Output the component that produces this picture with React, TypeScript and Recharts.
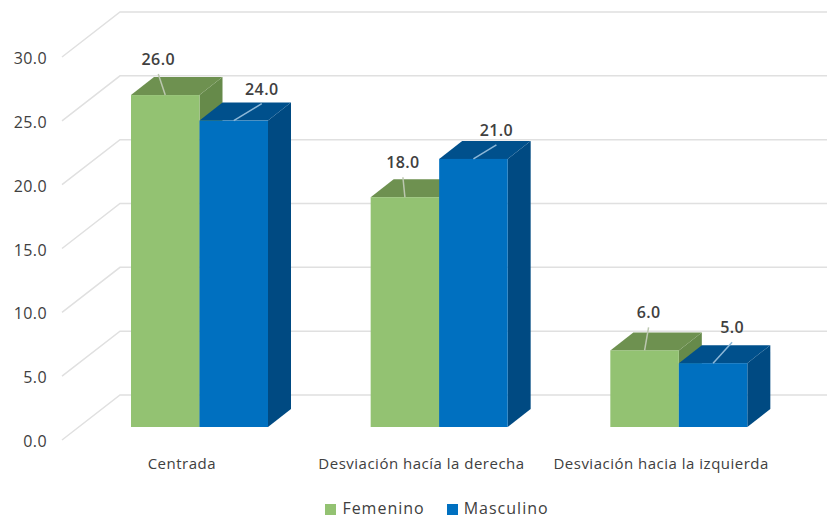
import React from 'react'
import { BarChart, Bar, XAxis, YAxis, CartesianGrid, Legend, LabelList } from 'recharts'

const categories = ['Centrada', 'Desviación hacía la derecha', 'Desviación hacia la izquierda']
const femenino = [26, 18, 6]
const masculino = [24, 21, 5]
const yTicks = [0, 5, 10, 15, 20, 25, 30]

const chartData = categories.map((name, i) => ({
  name,
  Femenino: femenino[i],
  Masculino: masculino[i],
}))

const FONT = '"Open Sans", "Noto Sans", sans-serif'
const DEPTH_X = 23
const DEPTH_Y = 18

// where each data label sits relative to the middle of the bar's front top edge
const femeninoOffsets = [[-7, -21], [-2, -20], [4, -23]]
const masculinoOffsets = [[28, -17], [23, -14], [19, -21]]

const Bar3D = (props: any) => {
  const { x, y, width, height, fill, topFill, sideFill } = props
  const right = x + width
  const bottom = y + height
  return (
    <g>
      <polygon
        points={`${right},${y} ${right + DEPTH_X},${y - DEPTH_Y} ${right + DEPTH_X},${bottom - DEPTH_Y} ${right},${bottom}`}
        fill={sideFill}
      />
      <polygon
        points={`${x},${y} ${x + DEPTH_X},${y - DEPTH_Y} ${right + DEPTH_X},${y - DEPTH_Y} ${right},${y}`}
        fill={topFill}
      />
      <rect x={x} y={y} width={width} height={height} fill={fill} />
    </g>
  )
}

const leaderLabel = (offsets: number[][], stroke: string) => (props: any) => {
  const { x, y, width, value, index } = props
  const cx = x + width / 2
  const [dx, dy] = offsets[index]
  return (
    <g>
      <line x1={cx} y1={y} x2={cx + dx} y2={y + dy} stroke={stroke} strokeWidth={1.5} />
      <text
        x={cx + dx}
        y={y + dy - 15}
        textAnchor="middle"
        dominantBaseline="central"
        fontFamily={FONT}
        fontSize={16}
        fontWeight={600}
        letterSpacing={0.4}
        fill="#404040"
      >
        {Number(value).toFixed(1)}
      </text>
    </g>
  )
}

const GridLine3D = (props: any) => {
  const { y1, x2 } = props
  return (
    <polyline
      points={`62,${y1 + 13} 120,${y1 - 32} ${x2 + 28},${y1 - 32}`}
      fill="none"
      stroke="#e0e0e0"
      strokeWidth={1.5}
    />
  )
}

const YTick = (props: any) => {
  const { y, payload } = props
  return (
    <text
      x={47}
      y={y + 14}
      textAnchor="end"
      dominantBaseline="central"
      fontFamily={FONT}
      fontSize={16}
      letterSpacing={0.4}
      fill="#404040"
    >
      {Number(payload.value).toFixed(1)}
    </text>
  )
}

const XTick = (props: any) => {
  const { x, payload } = props
  return (
    <text
      x={x - 18}
      y={463}
      textAnchor="middle"
      dominantBaseline="central"
      fontFamily={FONT}
      fontSize={15}
      letterSpacing={0.5}
      fill="#404040"
    >
      {payload.value}
    </text>
  )
}

export default function App() {
  return (
    <div style={{ position: 'absolute', left: 0, top: 0, width: 827, height: 518, background: '#fff' }}>
      <BarChart
        width={827}
        height={518}
        data={chartData}
        margin={{ top: 44, right: 28, bottom: 0, left: 0 }}
        barGap={0}
        barSize={68.5}
      >
        <CartesianGrid vertical={false} horizontal={GridLine3D as any} />
        <XAxis dataKey="name" height={71} axisLine={false} tickLine={false} interval={0} tick={XTick as any} />
        <YAxis
          width={80}
          domain={[0, 30]}
          ticks={yTicks}
          axisLine={false}
          tickLine={false}
          tick={YTick as any}
        />
        <Legend
          height={41}
          iconType="square"
          iconSize={11}
          wrapperStyle={{ fontFamily: FONT, fontSize: 16, letterSpacing: 1, top: 498, left: 78, height: 20, lineHeight: '20px', width: 740 }}
          formatter={(value: string) => (
            <span style={{ color: '#404040', marginLeft: 2, marginRight: 12 }}>{value}</span>
          )}
        />
        <Bar
          dataKey="Femenino"
          fill="#93C272"
          isAnimationActive={false}
          shape={(p: any) => <Bar3D {...p} topFill="#6E9150" sideFill="#668A4A" />}
        >
          <LabelList dataKey="Femenino" content={leaderLabel(femeninoOffsets, '#bcc7b0') as any} />
        </Bar>
        <Bar
          dataKey="Masculino"
          fill="#0070C0"
          isAnimationActive={false}
          shape={(p: any) => <Bar3D {...p} topFill="#00508C" sideFill="#004A82" />}
        >
          <LabelList dataKey="Masculino" content={leaderLabel(masculinoOffsets, '#8db8d8') as any} />
        </Bar>
      </BarChart>
    </div>
  )
}
